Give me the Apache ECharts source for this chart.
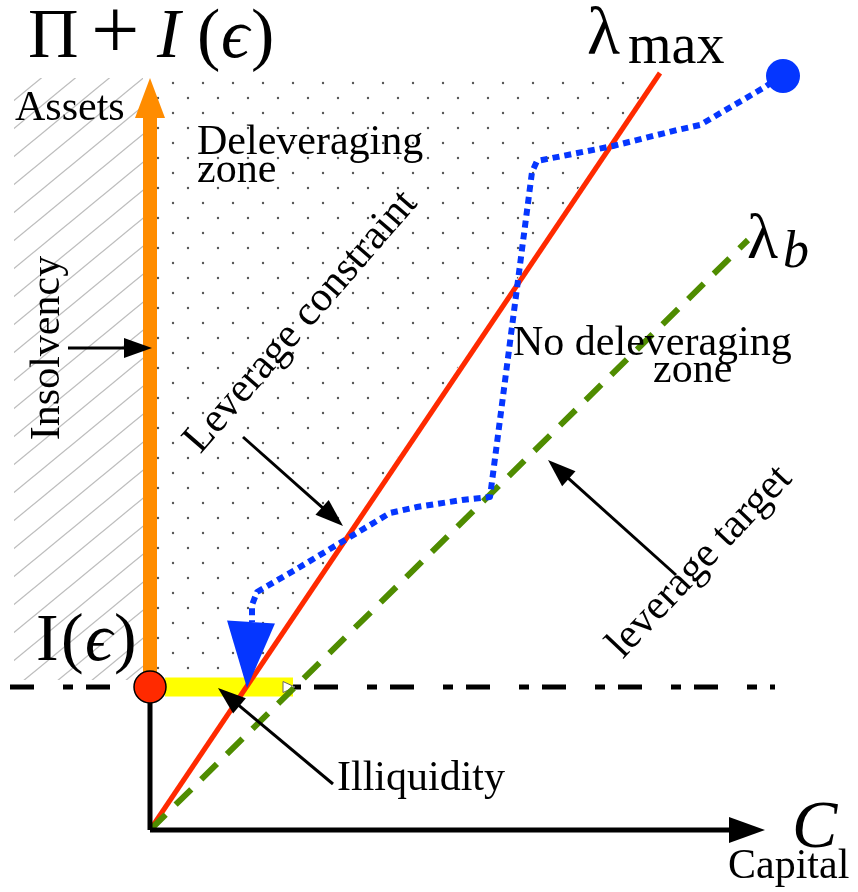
<!DOCTYPE html>
<html>
<head>
    <meta charset="utf-8">
    <title>Leverage diagram</title>
    <script src="https://cdn.jsdelivr.net/npm/echarts@6/dist/echarts.min.js"></script>
    <style>
        html, body { margin: 0; padding: 0; background: #ffffff; }
        #chart { width: 858px; height: 892px; }
    </style>
</head>
<body>
<div id="chart"></div>
<script>
// data units: capital (x) and assets (y), origin at the corner of the axes
var lambdaMax = [[0, 0], [510, 757]];
var lambdaB = [[0, 0], [598, 590]];
var illiquidityLevel = 143;
var assetsTop = 752;
var capitalEnd = 615;
var illiquidityBar = [[15, 143], [143, 143]];
var cutoffLine = [[-140, 143], [625, 143]];
// deleveraging path (blue dotted), from the start dot down to the constraint
var pathPoints = [
    [622, 748], [615, 743], [550, 705], [527, 700], [463, 684], [387, 669],
    [382, 658], [340, 333], [312, 330], [267, 323], [240, 317], [200, 293],
    [150, 263], [107, 238], [102, 225], [102, 208]
];
var pathStart = [633, 754];
var pathHead = [[101, 208, 97, 142]];
// annotation arrows: [x1, y1, x2, y2]
var noteArrows = [
    [-82, 482, 2, 482],     // insolvency
    [93, 393, 193, 304],    // leverage constraint
    [526, 255, 398, 370],   // leverage target
    [183, 46, 68, 142]      // illiquidity
];
var hatchZone = [[-136, 150], [-7, 752]];
var dotZoneTop = 752, dotZoneBottom = 150, dotZoneLeft = 7;

var FONT = "'Liberation Serif', 'DejaVu Serif', serif";

function makePattern(kind) {
    var c = document.createElement('canvas');
    var g = c.getContext('2d');
    if (kind === 'dots') {
        c.width = 30; c.height = 30;
        g.fillStyle = '#555555';
        [[8, 8], [23, 23]].forEach(function (p) {
            g.beginPath();
            g.arc(p[0], p[1], 1.2, 0, Math.PI * 2);
            g.fill();
        });
    } else {
        c.width = 34; c.height = 28;
        g.strokeStyle = '#bdbdbd';
        g.lineWidth = 1.3;
        for (var k = -1; k <= 1; k++) {
            g.beginPath();
            g.moveTo(-34, 56 + k * 28);
            g.lineTo(68, -28 + k * 28);
            g.stroke();
        }
    }
    return c;
}

// arrow drawn through the grid's scales; headLen null = head only, full length
function arrowSeries(data, color, width, headLen, headW, z, stroke) {
    return {
        type: 'custom',
        coordinateSystem: 'cartesian2d',
        data: data,
        z: z,
        silent: true,
        renderItem: function (params, api) {
            var p0 = api.coord([api.value(0), api.value(1)]);
            var p1 = api.coord([api.value(2), api.value(3)]);
            var dx = p1[0] - p0[0], dy = p1[1] - p0[1];
            var len = Math.sqrt(dx * dx + dy * dy);
            var ux = dx / len, uy = dy / len;
            var hl = headLen == null ? len : headLen;
            var bx = p1[0] - ux * hl, by = p1[1] - uy * hl;
            var nx = -uy * headW / 2, ny = ux * headW / 2;
            var kids = [];
            if (width > 0) {
                kids.push({
                    type: 'line',
                    shape: {x1: p0[0], y1: p0[1], x2: bx + ux * 2, y2: by + uy * 2},
                    style: {stroke: color, lineWidth: width}
                });
            }
            kids.push({
                type: 'polygon',
                shape: {points: [[p1[0], p1[1]], [bx + nx, by + ny], [bx - nx, by - ny]]},
                style: {fill: color, stroke: stroke || null, lineWidth: 1}
            });
            return {type: 'group', children: kids};
        }
    };
}

function zoneSeries(getPoints, pattern, z) {
    return {
        type: 'custom',
        coordinateSystem: 'cartesian2d',
        data: [[0, 0]],
        z: z,
        silent: true,
        renderItem: function (params, api) {
            var pts = getPoints().map(function (p) { return api.coord(p); });
            return {
                type: 'polygon',
                shape: {points: pts},
                style: {fill: {image: pattern, repeat: 'repeat'}, stroke: null}
            };
        }
    };
}

function lineX(line, y) {
    var a = line[0], b = line[1];
    return a[0] + (b[0] - a[0]) * (y - a[1]) / (b[1] - a[1]);
}

// text helper: x/y given at the baseline
function txt(x, baseline, text, size, opts) {
    opts = opts || {};
    return {
        type: 'text',
        x: x,
        y: baseline - 0.34 * size,
        z: 100,
        style: {
            text: text,
            fontSize: size,
            fontFamily: FONT,
            fontStyle: opts.italic ? 'italic' : 'normal',
            fill: '#000000',
            align: opts.align || 'left',
            verticalAlign: 'middle'
        }
    };
}

function rotTxt(cx, cy, text, size, deg) {
    return {
        type: 'text',
        x: cx,
        y: cy,
        rotation: deg * Math.PI / 180,
        z: 100,
        style: {
            text: text,
            fontSize: size,
            fontFamily: FONT,
            fill: '#000000',
            align: 'center',
            verticalAlign: 'middle'
        }
    };
}

var chart = echarts.init(document.getElementById('chart'));

var option = {
    animation: false,
    grid: {left: 0, right: 0, top: 0, bottom: 0},
    xAxis: {type: 'value', min: -150, max: 708, show: false},
    yAxis: {type: 'value', min: -62, max: 830, show: false},
    series: [
        zoneSeries(function () {
            return [[hatchZone[0][0], hatchZone[0][1]], [hatchZone[1][0], hatchZone[0][1]],
                [hatchZone[1][0], hatchZone[1][1]], [hatchZone[0][0], hatchZone[1][1]]];
        }, makePattern('hatch'), 1),
        zoneSeries(function () {
            return [[dotZoneLeft, dotZoneTop], [lineX(lambdaMax, dotZoneTop) - 4, dotZoneTop],
                [lineX(lambdaMax, dotZoneBottom) - 4, dotZoneBottom], [dotZoneLeft, dotZoneBottom]];
        }, makePattern('dots'), 1),
        {
            // I(eps) cut-off level
            type: 'line', data: cutoffLine, showSymbol: false, z: 2, silent: true,
            lineStyle: {color: '#000000', width: 5, type: [24, 29, 10, 13], cap: 'butt'}
        },
        {
            type: 'line', data: illiquidityBar, showSymbol: false, z: 3, silent: true,
            lineStyle: {color: '#ffff00', width: 19, cap: 'butt'}
        },
        arrowSeries([[130, illiquidityLevel, 145, illiquidityLevel]], '#ffffff', 0, 12, 11, 4, '#666666'),
        {
            type: 'line', name: 'lambda_max', data: lambdaMax, showSymbol: false, z: 5, silent: true,
            lineStyle: {color: '#ff2a00', width: 5}
        },
        {
            type: 'line', name: 'lambda_b', data: lambdaB, showSymbol: false, z: 6, silent: true,
            lineStyle: {color: '#4f8c00', width: 6, type: [22, 14], cap: 'butt'}
        },
        {
            type: 'line', name: 'path', data: pathPoints, showSymbol: false, z: 7, silent: true,
            lineStyle: {color: '#0536ff', width: 6, type: [7, 5], cap: 'butt', join: 'round'}
        },
        arrowSeries(pathHead, '#0536ff', 0, null, 48, 8),
        {
            type: 'scatter', data: [pathStart], symbol: 'circle', symbolSize: 34, z: 8, silent: true,
            itemStyle: {color: '#0536ff', opacity: 1}
        },
        arrowSeries([[0, illiquidityLevel, 0, assetsTop]], '#ff8c00', 14, 40, 30, 9),
        {
            type: 'line', data: [[0, 0], [0, illiquidityLevel]], showSymbol: false, z: 9, silent: true,
            lineStyle: {color: '#000000', width: 5}
        },
        arrowSeries([[0, 0, capitalEnd, 0]], '#000000', 5, 36, 26, 9),
        {
            type: 'scatter', data: [[0, illiquidityLevel]], symbol: 'circle', symbolSize: 32, z: 10, silent: true,
            itemStyle: {color: '#ff2a00', borderColor: '#000000', borderWidth: 1.5, opacity: 1}
        },
        arrowSeries(noteArrows, '#000000', 3, 28, 20, 11)
    ],
    graphic: [
        // Π + I(ϵ)
        txt(28, 62, 'Π', 70),
        txt(91, 66, '+', 86),
        txt(157, 62, 'I', 70, {italic: true}),
        txt(197, 62, '(', 70),
        txt(221, 62, 'ϵ', 70, {italic: true}),
        txt(251, 62, ')', 70),
        // I(ϵ)
        txt(36, 665, 'I', 68),
        txt(61, 665, '(', 68),
        txt(85, 665, 'ϵ', 68, {italic: true}),
        txt(114, 665, ')', 68),
        txt(587, 59, 'λ', 68),
        txt(628, 67, 'max', 56),
        txt(747, 263, 'λ', 64),
        txt(783, 271, 'b', 52, {italic: true}),
        txt(792, 852, 'C', 68, {italic: true}),
        txt(728, 881, 'Capital', 42),
        txt(15, 123, 'Assets', 42),
        txt(197, 157, 'Deleveraging', 42),
        txt(197, 185, 'zone', 42),
        txt(513, 358, 'No deleveraging', 42),
        txt(653, 385, 'zone', 42),
        txt(337, 793, 'Illiquidity', 42),
        rotTxt(48, 348, 'Insolvency', 42, 90),
        rotTxt(301, 322, 'Leverage constraint', 42, 49),
        rotTxt(700, 562, 'leverage target', 42, 46.5)
    ]
};

chart.setOption(option);
</script>
</body>
</html>
